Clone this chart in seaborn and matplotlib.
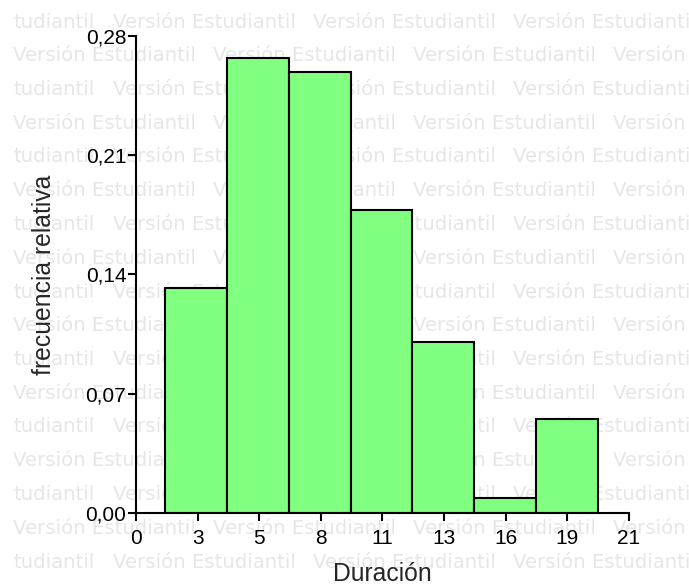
import numpy as np
import pandas as pd
import matplotlib
matplotlib.use('Agg')
import matplotlib.pyplot as plt
import seaborn as sns

# histogram of Duración, relative frequency per bin
bin_edges = [1.24, 3.875, 6.51, 9.145, 11.78, 14.415, 17.05, 19.685]
rel_freq = [0.1318, 0.267, 0.259, 0.178, 0.1003, 0.0085, 0.0552]

x_ticks = [0, 2.625, 5.25, 7.875, 10.5, 13.125, 15.75, 18.375, 21]
x_tick_labels = ['0', '3', '5', '8', '11', '13', '16', '19', '21']
y_ticks = [0.0, 0.07, 0.14, 0.21, 0.28]
y_tick_labels = ['0,00', '0,07', '0,14', '0,21', '0,28']
watermark = 'Versión Estudiantil'
watermark_tail = 'tudiantil'

centers = [(a + b) / 2 for a, b in zip(bin_edges[:-1], bin_edges[1:])]
df = pd.DataFrame({'Duración': centers, 'frecuencia': rel_freq})

sns.set_style('ticks')
plt.rcParams['font.family'] = ['Liberation Sans', 'DejaVu Sans']

W, H = 689, 586
fig = plt.figure(figsize=(W / 100, H / 100), dpi=100)
ax = fig.add_axes([136 / W, 1 - 512.7 / H, 492.7 / W, 476.7 / H])
ax.set_zorder(1)
ax.patch.set_alpha(0)

# background watermark rows
wm_kw = dict(fontsize=14.2, color='#e6e6e6', family='DejaVu Sans',
             va='center', ha='left', zorder=0)
for i in range(17):
    y = 1 - (22 + 33.75 * i) / H
    if i % 2 == 0:
        fig.text(13 / W, y, watermark_tail, **wm_kw)
        x0 = 113
    else:
        x0 = 13
    for k in range(4):
        fig.text((x0 + 200 * k) / W, y, watermark, **wm_kw)

sns.histplot(data=df, x='Duración', weights='frecuencia', bins=bin_edges,
             color='#80ff80', alpha=1, edgecolor='black', linewidth=1.5, ax=ax)

ax.set_xlim(0, 21)
ax.set_ylim(0, 0.28)
ax.set_xticks(x_ticks)
ax.set_xticklabels(x_tick_labels)
ax.set_yticks(y_ticks)
ax.set_yticklabels(y_tick_labels)
ax.tick_params(axis='both', direction='out', length=6, width=1.5,
               color='black', labelsize=15, labelcolor='black')
ax.tick_params(axis='y', pad=1)
ax.tick_params(axis='x', pad=5.5)
sns.despine(ax=ax)
for s in ['left', 'bottom']:
    ax.spines[s].set_linewidth(1.5)
    ax.spines[s].set_color('black')

ax.set_xlabel('Duración', fontsize=17.8, labelpad=10)
ax.set_ylabel('frecuencia relativa', fontsize=17.8, labelpad=21)

fig.savefig('out.png', dpi=100)
